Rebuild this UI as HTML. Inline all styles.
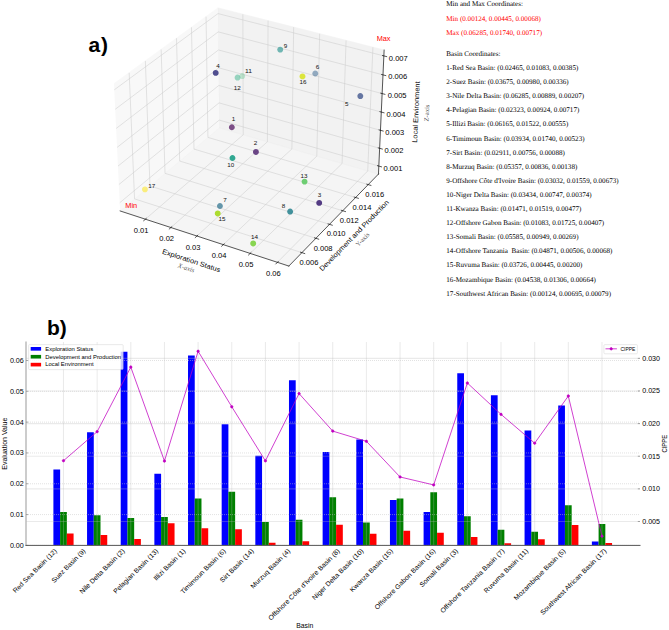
<!DOCTYPE html>
<html><head><meta charset="utf-8"><title>Basin evaluation</title>
<style>
html,body{margin:0;padding:0;background:#fff}
.t{text-rendering:geometricPrecision}
body{width:669px;height:630px;position:relative;overflow:hidden}
.t{position:absolute;left:446.3px;font-family:"Liberation Serif",serif;font-size:7.1px;line-height:0;white-space:nowrap;letter-spacing:0px}
.lab{position:absolute;font-family:"Liberation Sans",sans-serif;font-weight:bold;font-size:21px;line-height:0;color:#000}
.ax{position:absolute;font-family:"Liberation Serif",serif;font-size:6.5px;line-height:0;color:#777;white-space:nowrap}
</style></head><body>
<svg style="position:absolute;left:0;top:0" width="669" height="630" viewBox="0 0 1013.636364 954.545455" version="1.1">
<defs>
<style type="text/css">*{stroke-linejoin: round; stroke-linecap: butt}</style>
</defs>
<g id="a_figure_1">
<g id="a_patch_1">
<path d="M 0 954.545455 
L 1013.636364 954.545455 
L 1013.636364 0 
L 0 0 
L 0 954.545455 
z
" style="fill: none; opacity: 0"/>
</g>
<g id="a_patch_2">
<path d="M 147.69697 431.818182 
L 602.69697 431.818182 
L 602.69697 -1 
M 147.69697 -1 
L 147.69697 431.818182 
" style="fill: none"/>
</g>
<g id="a_pane3d_1">
<g id="a_patch_3">
<path d="M 182.052607 319.629763 
L 332.308467 193.682322 
L 330.219767 12.043598 
L 172.77339 126.940792 
" style="fill: #f2f2f2; opacity: 0.5; stroke: #f2f2f2; stroke-linejoin: miter"/>
</g>
</g>
<g id="a_pane3d_2">
<g id="a_patch_4">
<path d="M 332.308467 193.682322 
L 573.41551 263.762621 
L 582.019771 75.867559 
L 330.219767 12.043598 
" style="fill: #e6e6e6; opacity: 0.5; stroke: #e6e6e6; stroke-linejoin: miter"/>
</g>
</g>
<g id="a_pane3d_3">
<g id="a_patch_5">
<path d="M 182.052607 319.629763 
L 437.637849 403.103903 
L 573.41551 263.762621 
L 332.308467 193.682322 
" style="fill: #ececec; opacity: 0.5; stroke: #ececec; stroke-linejoin: miter"/>
</g>
</g>
<g id="a_grid3d_1">
<g id="a_Line3DCollection_1">
<path d="M 220.303747 332.122586 
L 368.528466 204.210046 
L 367.978294 21.614284 
" style="fill: none; stroke: #cccccc; stroke-width: 0.8"/>
<path d="M 259.01007 344.764071 
L 405.130711 214.848874 
L 406.159624 31.292138 
" style="fill: none; stroke: #cccccc; stroke-width: 0.8"/>
<path d="M 298.351327 357.612925 
L 442.283208 225.647638 
L 444.93997 41.121825 
" style="fill: none; stroke: #cccccc; stroke-width: 0.8"/>
<path d="M 338.343268 370.674293 
L 479.998459 236.609972 
L 484.333538 51.106946 
" style="fill: none; stroke: #cccccc; stroke-width: 0.8"/>
<path d="M 379.002174 383.953491 
L 518.289346 247.739621 
L 524.35499 61.251218 
" style="fill: none; stroke: #cccccc; stroke-width: 0.8"/>
<path d="M 420.344867 397.456015 
L 557.169151 259.040446 
L 565.019459 71.558475 
" style="fill: none; stroke: #cccccc; stroke-width: 0.8"/>
</g>
</g>
<g id="a_grid3d_2">
<g id="a_Line3DCollection_2">
<path d="M 195.703302 110.207587 
L 203.864424 301.346667 
L 457.42245 382.800035 
" style="fill: none; stroke: #cccccc; stroke-width: 0.8"/>
<path d="M 220.256455 92.289814 
L 227.247055 281.746881 
L 478.603683 361.06288 
" style="fill: none; stroke: #cccccc; stroke-width: 0.8"/>
<path d="M 244.157813 74.847692 
L 250.035558 262.645106 
L 499.218711 339.90679 
" style="fill: none; stroke: #cccccc; stroke-width: 0.8"/>
<path d="M 267.432989 57.862529 
L 272.252294 244.022598 
L 519.289938 319.308773 
" style="fill: none; stroke: #cccccc; stroke-width: 0.8"/>
<path d="M 290.106272 41.316599 
L 293.918513 225.861543 
L 538.838602 299.247035 
" style="fill: none; stroke: #cccccc; stroke-width: 0.8"/>
<path d="M 312.200713 25.193082 
L 315.054429 208.145 
L 557.884847 279.700902 
" style="fill: none; stroke: #cccccc; stroke-width: 0.8"/>
</g>
</g>
<g id="a_grid3d_3">
<g id="a_Line3DCollection_3">
<path d="M 573.971637 251.618233 
L 332.1732 181.919103 
L 181.453801 307.195154 
" style="fill: none; stroke: #cccccc; stroke-width: 0.8"/>
<path d="M 575.204715 224.690965 
L 331.873408 155.848439 
L 180.125625 279.614727 
" style="fill: none; stroke: #cccccc; stroke-width: 0.8"/>
<path d="M 576.453681 197.41673 
L 331.569938 129.457934 
L 178.779681 251.665333 
" style="fill: none; stroke: #cccccc; stroke-width: 0.8"/>
<path d="M 577.718845 169.788779 
L 331.262722 102.741663 
L 177.415611 223.33952 
" style="fill: none; stroke: #cccccc; stroke-width: 0.8"/>
<path d="M 579.000524 141.800187 
L 330.951691 75.693558 
L 176.033044 194.62963 
" style="fill: none; stroke: #cccccc; stroke-width: 0.8"/>
<path d="M 580.299043 113.443846 
L 330.636772 48.307398 
L 174.631603 165.527799 
" style="fill: none; stroke: #cccccc; stroke-width: 0.8"/>
<path d="M 581.614737 84.71246 
L 330.317892 20.576806 
L 173.210898 136.025945 
" style="fill: none; stroke: #cccccc; stroke-width: 0.8"/>
</g>
</g>
<g id="a_axis3d_1">
<g id="a_line2d_1">
<path d="M 182.052607 319.629763 
L 437.637849 403.103903 
" style="fill: none; stroke: #000000; stroke-linecap: square"/>
</g>
<g id="a_xtick_1">
<g id="a_line2d_2">
<path d="M 221.594984 331.008295 
L 217.715706 334.355971 
" style="fill: none; stroke: #000000; stroke-linecap: square"/>
</g>
</g>
<g id="a_xtick_2">
<g id="a_line2d_3">
<path d="M 260.283823 343.631583 
L 256.457029 347.033968 
" style="fill: none; stroke: #000000; stroke-linecap: square"/>
</g>
</g>
<g id="a_xtick_3">
<g id="a_line2d_4">
<path d="M 299.606845 356.461791 
L 295.834787 359.920238 
" style="fill: none; stroke: #000000; stroke-linecap: square"/>
</g>
</g>
<g id="a_xtick_4">
<g id="a_line2d_5">
<path d="M 339.579774 369.504048 
L 335.864794 373.019954 
" style="fill: none; stroke: #000000; stroke-linecap: square"/>
</g>
</g>
<g id="a_xtick_5">
<g id="a_line2d_6">
<path d="M 380.218855 382.763656 
L 376.56339 386.338464 
" style="fill: none; stroke: #000000; stroke-linecap: square"/>
</g>
</g>
<g id="a_xtick_6">
<g id="a_line2d_7">
<path d="M 421.54088 396.246092 
L 417.947468 399.881296 
" style="fill: none; stroke: #000000; stroke-linecap: square"/>
</g>
</g>
</g>
<g id="a_axis3d_2">
<g id="a_line2d_8">
<path d="M 573.41551 263.762621 
L 437.637849 403.103903 
" style="fill: none; stroke: #000000; stroke-linecap: square"/>
</g>
<g id="a_xtick_7">
<g id="a_line2d_9">
<path d="M 455.286424 382.113855 
L 461.699991 384.174159 
" style="fill: none; stroke: #000000; stroke-linecap: square"/>
</g>
</g>
<g id="a_xtick_8">
<g id="a_line2d_10">
<path d="M 476.487645 360.395161 
L 482.841121 362.400011 
" style="fill: none; stroke: #000000; stroke-linecap: square"/>
</g>
</g>
<g id="a_xtick_9">
<g id="a_line2d_11">
<path d="M 497.122364 339.256797 
L 503.416647 341.208401 
" style="fill: none; stroke: #000000; stroke-linecap: square"/>
</g>
</g>
<g id="a_xtick_10">
<g id="a_line2d_12">
<path d="M 517.212985 318.67581 
L 523.448968 320.576262 
" style="fill: none; stroke: #000000; stroke-linecap: square"/>
</g>
</g>
<g id="a_xtick_11">
<g id="a_line2d_13">
<path d="M 536.780751 298.630441 
L 542.959315 300.481726 
" style="fill: none; stroke: #000000; stroke-linecap: square"/>
</g>
</g>
<g id="a_xtick_12">
<g id="a_line2d_14">
<path d="M 555.845808 279.100049 
L 561.967827 280.904051 
" style="fill: none; stroke: #000000; stroke-linecap: square"/>
</g>
</g>
</g>
<g id="a_axis3d_3">
<g id="a_line2d_15">
<path d="M 573.41551 263.762621 
L 582.019771 75.867559 
" style="fill: none; stroke: #000000; stroke-linecap: square"/>
</g>
<g id="a_xtick_13">
<g id="a_line2d_16">
<path d="M 571.942007 251.033187 
L 578.035738 252.789723 
" style="fill: none; stroke: #000000; stroke-linecap: square"/>
</g>
</g>
<g id="a_xtick_14">
<g id="a_line2d_17">
<path d="M 573.161605 224.112934 
L 579.295839 225.848413 
" style="fill: none; stroke: #000000; stroke-linecap: square"/>
</g>
</g>
<g id="a_xtick_15">
<g id="a_line2d_18">
<path d="M 574.396911 196.845946 
L 580.57219 198.559676 
" style="fill: none; stroke: #000000; stroke-linecap: square"/>
</g>
</g>
<g id="a_xtick_16">
<g id="a_line2d_19">
<path d="M 575.648232 169.225479 
L 581.865108 170.916748 
" style="fill: none; stroke: #000000; stroke-linecap: square"/>
</g>
</g>
<g id="a_xtick_17">
<g id="a_line2d_20">
<path d="M 576.91588 141.244616 
L 583.174916 142.91269 
" style="fill: none; stroke: #000000; stroke-linecap: square"/>
</g>
</g>
<g id="a_xtick_18">
<g id="a_line2d_21">
<path d="M 578.200176 112.896255 
L 584.501948 114.540377 
" style="fill: none; stroke: #000000; stroke-linecap: square"/>
</g>
</g>
<g id="a_xtick_19">
<g id="a_line2d_22">
<path d="M 579.501453 84.17311 
L 585.846546 85.792497 
" style="fill: none; stroke: #000000; stroke-linecap: square"/>
</g>
</g>
</g>
<g id="a_axes_1">
<g id="a_Path3DCollection_1">
<defs>
<path id="a_C0_0_4ded16db70" d="M 0 4.472136 
C 1.186024 4.472136 2.323632 4.000923 3.162278 3.162278 
C 4.000923 2.323632 4.472136 1.186024 4.472136 -0 
C 4.472136 -1.186024 4.000923 -2.323632 3.162278 -3.162278 
C 2.323632 -4.000923 1.186024 -4.472136 0 -4.472136 
C -1.186024 -4.472136 -2.323632 -4.000923 -3.162278 -3.162278 
C -4.000923 -2.323632 -4.472136 -1.186024 -4.472136 0 
C -4.472136 1.186024 -4.000923 2.323632 -3.162278 3.162278 
C -2.323632 4.000923 -1.186024 4.472136 0 4.472136 
z
"/>
</defs>
<g clip-path="url(#a_pe5051b21e3)">
<use href="#a_C0_0_4ded16db70" x="366.998165" y="115.252277" style="fill: #3fbc73; fill-opacity: 0.3"/>
</g>
<g clip-path="url(#a_pe5051b21e3)">
<use href="#a_C0_0_4ded16db70" x="359.923996" y="117.493126" style="fill: #28ae80; fill-opacity: 0.451041"/>
</g>
<g clip-path="url(#a_pe5051b21e3)">
<use href="#a_C0_0_4ded16db70" x="477.704056" y="111.386597" style="fill: #33638d; fill-opacity: 0.510606"/>
</g>
<g clip-path="url(#a_pe5051b21e3)">
<use href="#a_C0_0_4ded16db70" x="219.590361" y="286.885519" style="fill: #fde725; fill-opacity: 0.578959"/>
</g>
<g clip-path="url(#a_pe5051b21e3)">
<use href="#a_C0_0_4ded16db70" x="424.563438" y="75.141706" style="fill: #21918c; fill-opacity: 0.619435"/>
</g>
<g clip-path="url(#a_pe5051b21e3)">
<use href="#a_C0_0_4ded16db70" x="351.271334" y="192.769065" style="fill: #440154; fill-opacity: 0.67973"/>
</g>
<g clip-path="url(#a_pe5051b21e3)">
<use href="#a_C0_0_4ded16db70" x="333.239769" y="312.083882" style="fill: #2c728e; fill-opacity: 0.722973"/>
</g>
<g clip-path="url(#a_pe5051b21e3)">
<use href="#a_C0_0_4ded16db70" x="545.928835" y="145.536722" style="fill: #3b528b; fill-opacity: 0.771892"/>
</g>
<g clip-path="url(#a_pe5051b21e3)">
<use href="#a_C0_0_4ded16db70" x="387.774304" y="230.243462" style="fill: #48186a; fill-opacity: 0.782984"/>
</g>
<g clip-path="url(#a_pe5051b21e3)">
<use href="#a_C0_0_4ded16db70" x="458.319666" y="115.742561" style="fill: #d8e219; fill-opacity: 0.838556"/>
</g>
<g clip-path="url(#a_pe5051b21e3)">
<use href="#a_C0_0_4ded16db70" x="439.571561" y="320.556928" style="fill: #26828e; fill-opacity: 0.862185"/>
</g>
<g clip-path="url(#a_pe5051b21e3)">
<use href="#a_C0_0_4ded16db70" x="461.466187" y="275.123714" style="fill: #5ec962; fill-opacity: 0.886363"/>
</g>
<g clip-path="url(#a_pe5051b21e3)">
<use href="#a_C0_0_4ded16db70" x="352.233848" y="239.432671" style="fill: #1fa088; fill-opacity: 0.910881"/>
</g>
<g clip-path="url(#a_pe5051b21e3)">
<use href="#a_C0_0_4ded16db70" x="326.840762" y="110.43089" style="fill: #424086; fill-opacity: 0.927258"/>
</g>
<g clip-path="url(#a_pe5051b21e3)">
<use href="#a_C0_0_4ded16db70" x="483.627947" y="307.450327" style="fill: #472d7b; fill-opacity: 0.931034"/>
</g>
<g clip-path="url(#a_pe5051b21e3)">
<use href="#a_C0_0_4ded16db70" x="383.60909" y="368.836122" style="fill: #84d44b; fill-opacity: 0.970547"/>
</g>
<g clip-path="url(#a_pe5051b21e3)">
<use href="#a_C0_0_4ded16db70" x="329.914148" y="323.425357" style="fill: #addc30"/>
</g>
</g>
</g>
<g id="a_text_1">
<text style='font-size:10.6px;font-family:"Liberation Sans",sans-serif;text-anchor:middle' x="213.787879" y="353.190455" transform="rotate(-0 213.787879 353.190455)" textLength="22.266" lengthAdjust="spacingAndGlyphs">0.01</text>
</g>
<g id="a_text_2">
<text style='font-size:10.6px;font-family:"Liberation Sans",sans-serif;text-anchor:middle' x="252.575758" y="365.463182" transform="rotate(-0 252.575758 365.463182)" textLength="22.266" lengthAdjust="spacingAndGlyphs">0.02</text>
</g>
<g id="a_text_3">
<text style='font-size:10.6px;font-family:"Liberation Sans",sans-serif;text-anchor:middle' x="292.424242" y="378.493485" transform="rotate(-0 292.424242 378.493485)" textLength="22.266" lengthAdjust="spacingAndGlyphs">0.03</text>
</g>
<g id="a_text_4">
<text style='font-size:10.6px;font-family:"Liberation Sans",sans-serif;text-anchor:middle' x="331.969697" y="391.220758" transform="rotate(-0 331.969697 391.220758)" textLength="22.266" lengthAdjust="spacingAndGlyphs">0.04</text>
</g>
<g id="a_text_5">
<text style='font-size:10.6px;font-family:"Liberation Sans",sans-serif;text-anchor:middle' x="372.727273" y="405.160152" transform="rotate(-0 372.727273 405.160152)" textLength="22.266" lengthAdjust="spacingAndGlyphs">0.05</text>
</g>
<g id="a_text_6">
<text style='font-size:10.6px;font-family:"Liberation Sans",sans-serif;text-anchor:middle' x="414.242424" y="418.796515" transform="rotate(-0 414.242424 418.796515)" textLength="22.266" lengthAdjust="spacingAndGlyphs">0.06</text>
</g>
<g id="a_text_7">
<text style='font-size:10.6px;font-family:"Liberation Sans",sans-serif;text-anchor:middle' x="567.878788" y="298.038939" transform="rotate(-0 567.878788 298.038939)" textLength="28.628" lengthAdjust="spacingAndGlyphs">0.016</text>
</g>
<g id="a_text_8">
<text style='font-size:10.6px;font-family:"Liberation Sans",sans-serif;text-anchor:middle' x="548.484848" y="318.038939" transform="rotate(-0 548.484848 318.038939)" textLength="28.628" lengthAdjust="spacingAndGlyphs">0.014</text>
</g>
<g id="a_text_9">
<text style='font-size:10.6px;font-family:"Liberation Sans",sans-serif;text-anchor:middle' x="529.242424" y="337.887424" transform="rotate(-0 529.242424 337.887424)" textLength="28.628" lengthAdjust="spacingAndGlyphs">0.012</text>
</g>
<g id="a_text_10">
<text style='font-size:10.6px;font-family:"Liberation Sans",sans-serif;text-anchor:middle' x="509.242424" y="358.190455" transform="rotate(-0 509.242424 358.190455)" textLength="28.628" lengthAdjust="spacingAndGlyphs">0.010</text>
</g>
<g id="a_text_11">
<text style='font-size:10.6px;font-family:"Liberation Sans",sans-serif;text-anchor:middle' x="489.545455" y="380.008636" transform="rotate(-0 489.545455 380.008636)" textLength="28.628" lengthAdjust="spacingAndGlyphs">0.008</text>
</g>
<g id="a_text_12">
<text style='font-size:10.6px;font-family:"Liberation Sans",sans-serif;text-anchor:middle' x="468.181818" y="401.675303" transform="rotate(-0 468.181818 401.675303)" textLength="28.628" lengthAdjust="spacingAndGlyphs">0.006</text>
</g>
<g id="a_text_13">
<text style='font-size:10.6px;font-family:"Liberation Sans",sans-serif;text-anchor:middle' x="603.484848" y="92.129848" transform="rotate(-0 603.484848 92.129848)" textLength="28.628" lengthAdjust="spacingAndGlyphs">0.007</text>
</g>
<g id="a_text_14">
<text style='font-size:10.6px;font-family:"Liberation Sans",sans-serif;text-anchor:middle' x="602.575758" y="120.311667" transform="rotate(-0 602.575758 120.311667)" textLength="28.628" lengthAdjust="spacingAndGlyphs">0.006</text>
</g>
<g id="a_text_15">
<text style='font-size:10.6px;font-family:"Liberation Sans",sans-serif;text-anchor:middle' x="601.666667" y="148.493485" transform="rotate(-0 601.666667 148.493485)" textLength="28.628" lengthAdjust="spacingAndGlyphs">0.005</text>
</g>
<g id="a_text_16">
<text style='font-size:10.6px;font-family:"Liberation Sans",sans-serif;text-anchor:middle' x="600" y="176.523788" transform="rotate(-0 600 176.523788)" textLength="28.628" lengthAdjust="spacingAndGlyphs">0.004</text>
</g>
<g id="a_text_17">
<text style='font-size:10.6px;font-family:"Liberation Sans",sans-serif;text-anchor:middle' x="598.181818" y="204.705606" transform="rotate(-0 598.181818 204.705606)" textLength="28.628" lengthAdjust="spacingAndGlyphs">0.003</text>
</g>
<g id="a_text_18">
<text style='font-size:10.6px;font-family:"Liberation Sans",sans-serif;text-anchor:middle' x="596.969697" y="231.220758" transform="rotate(-0 596.969697 231.220758)" textLength="28.628" lengthAdjust="spacingAndGlyphs">0.002</text>
</g>
<g id="a_text_19">
<text style='font-size:10.6px;font-family:"Liberation Sans",sans-serif;text-anchor:middle' x="595.454545" y="258.493485" transform="rotate(-0 595.454545 258.493485)" textLength="28.628" lengthAdjust="spacingAndGlyphs">0.001</text>
</g>
<g id="a_text_20">
<text style='font-size:10.6px;font-family:"Liberation Sans",sans-serif;text-anchor:middle' x="288.819672" y="398.308187" transform="rotate(-341.9 288.819672 398.308187)" textLength="91.919" lengthAdjust="spacingAndGlyphs">Exploration Status</text>
</g>
<g id="a_text_21">
<text style='font-size:10.6px;font-family:"Liberation Sans",sans-serif;text-anchor:middle' x="539.084561" y="359.3182" transform="rotate(-45.74 539.084561 359.3182)" textLength="145.694" lengthAdjust="spacingAndGlyphs">Development and Production</text>
</g>
<g id="a_text_22">
<text style='font-size:10.6px;font-family:"Liberation Sans",sans-serif;text-anchor:middle' x="633.946823" y="169.869314" transform="rotate(-87.4 633.946823 169.869314)" textLength="92.950" lengthAdjust="spacingAndGlyphs">Local Environment</text>
</g>
<g id="a_text_23">
<text style='font-size:8.833px;font-family:"Liberation Sans",sans-serif;text-anchor:middle;fill:#111111' x="330.151515" y="103.484848" transform="rotate(-0 330.151515 103.484848)" textLength="5.302" lengthAdjust="spacingAndGlyphs">4</text>
</g>
<g id="a_text_24">
<text style='font-size:8.833px;font-family:"Liberation Sans",sans-serif;text-anchor:middle;fill:#111111' x="376.666667" y="110.454545" transform="rotate(-0 376.666667 110.454545)" textLength="10.604" lengthAdjust="spacingAndGlyphs">11</text>
</g>
<g id="a_text_25">
<text style='font-size:8.833px;font-family:"Liberation Sans",sans-serif;text-anchor:middle;fill:#111111' x="359.545455" y="136.060606" transform="rotate(-0 359.545455 136.060606)" textLength="10.604" lengthAdjust="spacingAndGlyphs">12</text>
</g>
<g id="a_text_26">
<text style='font-size:8.833px;font-family:"Liberation Sans",sans-serif;text-anchor:middle;fill:#111111' x="432.424242" y="72.575758" transform="rotate(-0 432.424242 72.575758)" textLength="5.302" lengthAdjust="spacingAndGlyphs">9</text>
</g>
<g id="a_text_27">
<text style='font-size:8.833px;font-family:"Liberation Sans",sans-serif;text-anchor:middle;fill:#111111' x="459.090909" y="127.575758" transform="rotate(-0 459.090909 127.575758)" textLength="10.604" lengthAdjust="spacingAndGlyphs">16</text>
</g>
<g id="a_text_28">
<text style='font-size:8.833px;font-family:"Liberation Sans",sans-serif;text-anchor:middle;fill:#111111' x="481.060606" y="104.545455" transform="rotate(-0 481.060606 104.545455)" textLength="5.302" lengthAdjust="spacingAndGlyphs">6</text>
</g>
<g id="a_text_29">
<text style='font-size:8.833px;font-family:"Liberation Sans",sans-serif;text-anchor:middle;fill:#111111' x="525.30303" y="161.363636" transform="rotate(-0 525.30303 161.363636)" textLength="5.302" lengthAdjust="spacingAndGlyphs">5</text>
</g>
<g id="a_text_30">
<text style='font-size:8.833px;font-family:"Liberation Sans",sans-serif;text-anchor:middle;fill:#111111' x="353.787879" y="182.878788" transform="rotate(-0 353.787879 182.878788)" textLength="5.302" lengthAdjust="spacingAndGlyphs">1</text>
</g>
<g id="a_text_31">
<text style='font-size:8.833px;font-family:"Liberation Sans",sans-serif;text-anchor:middle;fill:#111111' x="387.272727" y="219.393939" transform="rotate(-0 387.272727 219.393939)" textLength="5.302" lengthAdjust="spacingAndGlyphs">2</text>
</g>
<g id="a_text_32">
<text style='font-size:8.833px;font-family:"Liberation Sans",sans-serif;text-anchor:middle;fill:#111111' x="349.69697" y="253.030303" transform="rotate(-0 349.69697 253.030303)" textLength="10.604" lengthAdjust="spacingAndGlyphs">10</text>
</g>
<g id="a_text_33">
<text style='font-size:8.833px;font-family:"Liberation Sans",sans-serif;text-anchor:middle;fill:#111111' x="229.848485" y="284.242424" transform="rotate(-0 229.848485 284.242424)" textLength="10.604" lengthAdjust="spacingAndGlyphs">17</text>
</g>
<g id="a_text_34">
<text style='font-size:8.833px;font-family:"Liberation Sans",sans-serif;text-anchor:middle;fill:#111111' x="340.909091" y="306.666667" transform="rotate(-0 340.909091 306.666667)" textLength="5.302" lengthAdjust="spacingAndGlyphs">7</text>
</g>
<g id="a_text_35">
<text style='font-size:8.833px;font-family:"Liberation Sans",sans-serif;text-anchor:middle;fill:#111111' x="336.515152" y="334.393939" transform="rotate(-0 336.515152 334.393939)" textLength="10.604" lengthAdjust="spacingAndGlyphs">15</text>
</g>
<g id="a_text_36">
<text style='font-size:8.833px;font-family:"Liberation Sans",sans-serif;text-anchor:middle;fill:#111111' x="385.606061" y="362.878788" transform="rotate(-0 385.606061 362.878788)" textLength="10.604" lengthAdjust="spacingAndGlyphs">14</text>
</g>
<g id="a_text_37">
<text style='font-size:8.833px;font-family:"Liberation Sans",sans-serif;text-anchor:middle;fill:#111111' x="460.606061" y="269.69697" transform="rotate(-0 460.606061 269.69697)" textLength="10.604" lengthAdjust="spacingAndGlyphs">13</text>
</g>
<g id="a_text_38">
<text style='font-size:8.833px;font-family:"Liberation Sans",sans-serif;text-anchor:middle;fill:#111111' x="484.090909" y="298.636364" transform="rotate(-0 484.090909 298.636364)" textLength="5.302" lengthAdjust="spacingAndGlyphs">3</text>
</g>
<g id="a_text_39">
<text style='font-size:8.833px;font-family:"Liberation Sans",sans-serif;text-anchor:middle;fill:#111111' x="429.393939" y="314.545455" transform="rotate(-0 429.393939 314.545455)" textLength="5.302" lengthAdjust="spacingAndGlyphs">8</text>
</g>
<g id="a_text_40">
<text style='font-size:10px;font-family:"Liberation Serif",serif;text-anchor:middle;font-style:italic;fill:#505050' x="281.222617" y="408.95236" transform="rotate(-341.9 281.222617 408.95236)">X-axis</text>
</g>
<g id="a_text_41">
<text style='font-size:10px;font-family:"Liberation Serif",serif;text-anchor:middle;fill:#505050' x="551.570674" y="365.163117" transform="rotate(-45.74 551.570674 365.163117)">Y-axis</text>
</g>
<g id="a_text_42">
<text style='font-size:10px;font-family:"Liberation Serif",serif;text-anchor:middle;fill:#505050' x="649.826454" y="171.321205" transform="rotate(-87.4 649.826454 171.321205)">Z-axis</text>
</g>
<g id="a_text_43">
<text style='font-size:10.761px;font-family:"Liberation Sans",sans-serif;text-anchor:middle;fill:#ff0000' x="198.939394" y="314.848485" transform="rotate(-0 198.939394 314.848485)" textLength="18.013" lengthAdjust="spacingAndGlyphs">Min</text>
</g>
<g id="a_text_44">
<text style='font-size:10.761px;font-family:"Liberation Sans",sans-serif;text-anchor:middle;fill:#ff0000' x="581.212121" y="62.121212" transform="rotate(-0 581.212121 62.121212)" textLength="20.987" lengthAdjust="spacingAndGlyphs">Max</text>
</g>
</g>
<defs>
<clipPath id="a_pe5051b21e3">
<rect x="147.69697" y="-23.181818" width="455" height="455"/>
</clipPath>
</defs>
</svg>

<svg style="position:absolute;left:0;top:0" width="669" height="630" viewBox="0 0 1070.4 1008" version="1.1">
<defs>
<style type="text/css">*{stroke-linejoin: round; stroke-linecap: butt}</style>
</defs>
<g id="b_figure_1">
<g id="b_patch_1">
<path d="M 0 1008 
L 1070.4 1008 
L 1070.4 0 
L 0 0 
L 0 1008 
z
" style="fill: none; opacity: 0"/>
</g>
<g id="b_axes_1">
<g id="b_patch_2">
<path d="M 41.6 872.64 
L 1024 872.64 
L 1024 547.2 
L 41.6 547.2 
L 41.6 872.64 
z
" style="fill: none"/>
</g>
<g id="b_patch_3">
<path d="M 85.432142 872.64 
L 96.20171 872.64 
L 96.20171 751.093091 
L 85.432142 751.093091 
z
" clip-path="url(#b_p36844633c5)" style="fill: #0000ff"/>
</g>
<g id="b_patch_4">
<path d="M 139.279982 872.64 
L 150.049551 872.64 
L 150.049551 691.429091 
L 139.279982 691.429091 
z
" clip-path="url(#b_p36844633c5)" style="fill: #0000ff"/>
</g>
<g id="b_patch_5">
<path d="M 193.127823 872.64 
L 203.897391 872.64 
L 203.897391 562.732364 
L 193.127823 562.732364 
z
" clip-path="url(#b_p36844633c5)" style="fill: #0000ff"/>
</g>
<g id="b_patch_6">
<path d="M 246.975663 872.64 
L 257.745231 872.64 
L 257.745231 758.094982 
L 246.975663 758.094982 
z
" clip-path="url(#b_p36844633c5)" style="fill: #0000ff"/>
</g>
<g id="b_patch_7">
<path d="M 300.823504 872.64 
L 311.593072 872.64 
L 311.593072 568.649455 
L 300.823504 568.649455 
z
" clip-path="url(#b_p36844633c5)" style="fill: #0000ff"/>
</g>
<g id="b_patch_8">
<path d="M 354.671344 872.64 
L 365.440912 872.64 
L 365.440912 678.658036 
L 354.671344 678.658036 
z
" clip-path="url(#b_p36844633c5)" style="fill: #0000ff"/>
</g>
<g id="b_patch_9">
<path d="M 408.519184 872.64 
L 419.288752 872.64 
L 419.288752 729.101236 
L 408.519184 729.101236 
z
" clip-path="url(#b_p36844633c5)" style="fill: #0000ff"/>
</g>
<g id="b_patch_10">
<path d="M 462.367025 872.64 
L 473.136593 872.64 
L 473.136593 608.4912 
L 462.367025 608.4912 
z
" clip-path="url(#b_p36844633c5)" style="fill: #0000ff"/>
</g>
<g id="b_patch_11">
<path d="M 516.214865 872.64 
L 526.984433 872.64 
L 526.984433 723.134836 
L 516.214865 723.134836 
z
" clip-path="url(#b_p36844633c5)" style="fill: #0000ff"/>
</g>
<g id="b_patch_12">
<path d="M 570.062706 872.64 
L 580.832274 872.64 
L 580.832274 703.312582 
L 570.062706 703.312582 
z
" clip-path="url(#b_p36844633c5)" style="fill: #0000ff"/>
</g>
<g id="b_patch_13">
<path d="M 623.910546 872.64 
L 634.680114 872.64 
L 634.680114 800.106327 
L 623.910546 800.106327 
z
" clip-path="url(#b_p36844633c5)" style="fill: #0000ff"/>
</g>
<g id="b_patch_14">
<path d="M 677.758386 872.64 
L 688.527954 872.64 
L 688.527954 819.238255 
L 677.758386 819.238255 
z
" clip-path="url(#b_p36844633c5)" style="fill: #0000ff"/>
</g>
<g id="b_patch_15">
<path d="M 731.606227 872.64 
L 742.375795 872.64 
L 742.375795 597.248727 
L 731.606227 597.248727 
z
" clip-path="url(#b_p36844633c5)" style="fill: #0000ff"/>
</g>
<g id="b_patch_16">
<path d="M 785.454067 872.64 
L 796.223635 872.64 
L 796.223635 632.455418 
L 785.454067 632.455418 
z
" clip-path="url(#b_p36844633c5)" style="fill: #0000ff"/>
</g>
<g id="b_patch_17">
<path d="M 839.301907 872.64 
L 850.071476 872.64 
L 850.071476 688.914327 
L 839.301907 688.914327 
z
" clip-path="url(#b_p36844633c5)" style="fill: #0000ff"/>
</g>
<g id="b_patch_18">
<path d="M 893.149748 872.64 
L 903.919316 872.64 
L 903.919316 648.875345 
L 893.149748 648.875345 
z
" clip-path="url(#b_p36844633c5)" style="fill: #0000ff"/>
</g>
<g id="b_patch_19">
<path d="M 946.997588 872.64 
L 957.767156 872.64 
L 957.767156 866.525673 
L 946.997588 866.525673 
z
" clip-path="url(#b_p36844633c5)" style="fill: #0000ff"/>
</g>
<g id="b_patch_20">
<path d="M 96.20171 872.64 
L 106.971278 872.64 
L 106.971278 819.238255 
L 96.20171 819.238255 
z
" clip-path="url(#b_p36844633c5)" style="fill: #008000"/>
</g>
<g id="b_patch_21">
<path d="M 150.049551 872.64 
L 160.819119 872.64 
L 160.819119 824.317091 
L 150.049551 824.317091 
z
" clip-path="url(#b_p36844633c5)" style="fill: #008000"/>
</g>
<g id="b_patch_22">
<path d="M 203.897391 872.64 
L 214.666959 872.64 
L 214.666959 828.804218 
L 203.897391 828.804218 
z
" clip-path="url(#b_p36844633c5)" style="fill: #008000"/>
</g>
<g id="b_patch_23">
<path d="M 257.745231 872.64 
L 268.514799 872.64 
L 268.514799 827.0784 
L 257.745231 827.0784 
z
" clip-path="url(#b_p36844633c5)" style="fill: #008000"/>
</g>
<g id="b_patch_24">
<path d="M 311.593072 872.64 
L 322.36264 872.64 
L 322.36264 797.591564 
L 311.593072 797.591564 
z
" clip-path="url(#b_p36844633c5)" style="fill: #008000"/>
</g>
<g id="b_patch_25">
<path d="M 365.440912 872.64 
L 376.21048 872.64 
L 376.21048 786.842182 
L 365.440912 786.842182 
z
" clip-path="url(#b_p36844633c5)" style="fill: #008000"/>
</g>
<g id="b_patch_26">
<path d="M 419.288752 872.64 
L 430.058321 872.64 
L 430.058321 835.362327 
L 419.288752 835.362327 
z
" clip-path="url(#b_p36844633c5)" style="fill: #008000"/>
</g>
<g id="b_patch_27">
<path d="M 473.136593 872.64 
L 483.906161 872.64 
L 483.906161 831.4176 
L 473.136593 831.4176 
z
" clip-path="url(#b_p36844633c5)" style="fill: #008000"/>
</g>
<g id="b_patch_28">
<path d="M 526.984433 872.64 
L 537.754001 872.64 
L 537.754001 795.767127 
L 526.984433 795.767127 
z
" clip-path="url(#b_p36844633c5)" style="fill: #008000"/>
</g>
<g id="b_patch_29">
<path d="M 580.832274 872.64 
L 591.601842 872.64 
L 591.601842 835.806109 
L 580.832274 835.806109 
z
" clip-path="url(#b_p36844633c5)" style="fill: #008000"/>
</g>
<g id="b_patch_30">
<path d="M 634.680114 872.64 
L 645.449682 872.64 
L 645.449682 797.739491 
L 634.680114 797.739491 
z
" clip-path="url(#b_p36844633c5)" style="fill: #008000"/>
</g>
<g id="b_patch_31">
<path d="M 688.527954 872.64 
L 699.297522 872.64 
L 699.297522 787.581818 
L 688.527954 787.581818 
z
" clip-path="url(#b_p36844633c5)" style="fill: #008000"/>
</g>
<g id="b_patch_32">
<path d="M 742.375795 872.64 
L 753.145363 872.64 
L 753.145363 825.845673 
L 742.375795 825.845673 
z
" clip-path="url(#b_p36844633c5)" style="fill: #008000"/>
</g>
<g id="b_patch_33">
<path d="M 796.223635 872.64 
L 806.993203 872.64 
L 806.993203 847.6896 
L 796.223635 847.6896 
z
" clip-path="url(#b_p36844633c5)" style="fill: #008000"/>
</g>
<g id="b_patch_34">
<path d="M 850.071476 872.64 
L 860.841044 872.64 
L 860.841044 850.697455 
L 850.071476 850.697455 
z
" clip-path="url(#b_p36844633c5)" style="fill: #008000"/>
</g>
<g id="b_patch_35">
<path d="M 903.919316 872.64 
L 914.688884 872.64 
L 914.688884 808.242327 
L 903.919316 808.242327 
z
" clip-path="url(#b_p36844633c5)" style="fill: #008000"/>
</g>
<g id="b_patch_36">
<path d="M 957.767156 872.64 
L 968.536724 872.64 
L 968.536724 838.370182 
L 957.767156 838.370182 
z
" clip-path="url(#b_p36844633c5)" style="fill: #008000"/>
</g>
<g id="b_patch_37">
<path d="M 106.971278 872.64 
L 117.740846 872.64 
L 117.740846 853.656 
L 106.971278 853.656 
z
" clip-path="url(#b_p36844633c5)" style="fill: #ff0000"/>
</g>
<g id="b_patch_38">
<path d="M 160.819119 872.64 
L 171.588687 872.64 
L 171.588687 856.072145 
L 160.819119 856.072145 
z
" clip-path="url(#b_p36844633c5)" style="fill: #ff0000"/>
</g>
<g id="b_patch_39">
<path d="M 214.666959 872.64 
L 225.436527 872.64 
L 225.436527 862.433018 
L 214.666959 862.433018 
z
" clip-path="url(#b_p36844633c5)" style="fill: #ff0000"/>
</g>
<g id="b_patch_40">
<path d="M 268.514799 872.64 
L 279.284367 872.64 
L 279.284367 837.285382 
L 268.514799 837.285382 
z
" clip-path="url(#b_p36844633c5)" style="fill: #ff0000"/>
</g>
<g id="b_patch_41">
<path d="M 322.36264 872.64 
L 333.132208 872.64 
L 333.132208 845.273455 
L 322.36264 845.273455 
z
" clip-path="url(#b_p36844633c5)" style="fill: #ff0000"/>
</g>
<g id="b_patch_42">
<path d="M 376.21048 872.64 
L 386.980048 872.64 
L 386.980048 846.851345 
L 376.21048 846.851345 
z
" clip-path="url(#b_p36844633c5)" style="fill: #ff0000"/>
</g>
<g id="b_patch_43">
<path d="M 430.058321 872.64 
L 440.827889 872.64 
L 440.827889 868.3008 
L 430.058321 868.3008 
z
" clip-path="url(#b_p36844633c5)" style="fill: #ff0000"/>
</g>
<g id="b_patch_44">
<path d="M 483.906161 872.64 
L 494.675729 872.64 
L 494.675729 865.835345 
L 483.906161 865.835345 
z
" clip-path="url(#b_p36844633c5)" style="fill: #ff0000"/>
</g>
<g id="b_patch_45">
<path d="M 537.754001 872.64 
L 548.523569 872.64 
L 548.523569 839.454982 
L 537.754001 839.454982 
z
" clip-path="url(#b_p36844633c5)" style="fill: #ff0000"/>
</g>
<g id="b_patch_46">
<path d="M 591.601842 872.64 
L 602.37141 872.64 
L 602.37141 854.1984 
L 591.601842 854.1984 
z
" clip-path="url(#b_p36844633c5)" style="fill: #ff0000"/>
</g>
<g id="b_patch_47">
<path d="M 645.449682 872.64 
L 656.21925 872.64 
L 656.21925 849.119564 
L 645.449682 849.119564 
z
" clip-path="url(#b_p36844633c5)" style="fill: #ff0000"/>
</g>
<g id="b_patch_48">
<path d="M 699.297522 872.64 
L 710.067091 872.64 
L 710.067091 852.5712 
L 699.297522 852.5712 
z
" clip-path="url(#b_p36844633c5)" style="fill: #ff0000"/>
</g>
<g id="b_patch_49">
<path d="M 753.145363 872.64 
L 763.914931 872.64 
L 763.914931 859.375855 
L 753.145363 859.375855 
z
" clip-path="url(#b_p36844633c5)" style="fill: #ff0000"/>
</g>
<g id="b_patch_50">
<path d="M 806.993203 872.64 
L 817.762771 872.64 
L 817.762771 869.286982 
L 806.993203 869.286982 
z
" clip-path="url(#b_p36844633c5)" style="fill: #ff0000"/>
</g>
<g id="b_patch_51">
<path d="M 860.841044 872.64 
L 871.610612 872.64 
L 871.610612 862.778182 
L 860.841044 862.778182 
z
" clip-path="url(#b_p36844633c5)" style="fill: #ff0000"/>
</g>
<g id="b_patch_52">
<path d="M 914.688884 872.64 
L 925.458452 872.64 
L 925.458452 839.898764 
L 914.688884 839.898764 
z
" clip-path="url(#b_p36844633c5)" style="fill: #ff0000"/>
</g>
<g id="b_patch_53">
<path d="M 968.536724 872.64 
L 979.306292 872.64 
L 979.306292 868.744582 
L 968.536724 868.744582 
z
" clip-path="url(#b_p36844633c5)" style="fill: #ff0000"/>
</g>
<g id="b_matplotlib.axis_1">
<g id="b_xtick_1">
<g id="b_line2d_1">
<path d="M 101.586494 872.64 
L 101.586494 547.2 
" clip-path="url(#b_p36844633c5)" style="fill: none; stroke: #b8b8b8; stroke-opacity: 0.35; stroke-width: 1.4; stroke-linecap: square"/>
</g>
<g id="b_line2d_2"/>
</g>
<g id="b_xtick_2">
<g id="b_line2d_3">
<path d="M 155.434335 872.64 
L 155.434335 547.2 
" clip-path="url(#b_p36844633c5)" style="fill: none; stroke: #b8b8b8; stroke-opacity: 0.35; stroke-width: 1.4; stroke-linecap: square"/>
</g>
<g id="b_line2d_4"/>
</g>
<g id="b_xtick_3">
<g id="b_line2d_5">
<path d="M 209.282175 872.64 
L 209.282175 547.2 
" clip-path="url(#b_p36844633c5)" style="fill: none; stroke: #b8b8b8; stroke-opacity: 0.35; stroke-width: 1.4; stroke-linecap: square"/>
</g>
<g id="b_line2d_6"/>
</g>
<g id="b_xtick_4">
<g id="b_line2d_7">
<path d="M 263.130015 872.64 
L 263.130015 547.2 
" clip-path="url(#b_p36844633c5)" style="fill: none; stroke: #b8b8b8; stroke-opacity: 0.35; stroke-width: 1.4; stroke-linecap: square"/>
</g>
<g id="b_line2d_8"/>
</g>
<g id="b_xtick_5">
<g id="b_line2d_9">
<path d="M 316.977856 872.64 
L 316.977856 547.2 
" clip-path="url(#b_p36844633c5)" style="fill: none; stroke: #b8b8b8; stroke-opacity: 0.35; stroke-width: 1.4; stroke-linecap: square"/>
</g>
<g id="b_line2d_10"/>
</g>
<g id="b_xtick_6">
<g id="b_line2d_11">
<path d="M 370.825696 872.64 
L 370.825696 547.2 
" clip-path="url(#b_p36844633c5)" style="fill: none; stroke: #b8b8b8; stroke-opacity: 0.35; stroke-width: 1.4; stroke-linecap: square"/>
</g>
<g id="b_line2d_12"/>
</g>
<g id="b_xtick_7">
<g id="b_line2d_13">
<path d="M 424.673537 872.64 
L 424.673537 547.2 
" clip-path="url(#b_p36844633c5)" style="fill: none; stroke: #b8b8b8; stroke-opacity: 0.35; stroke-width: 1.4; stroke-linecap: square"/>
</g>
<g id="b_line2d_14"/>
</g>
<g id="b_xtick_8">
<g id="b_line2d_15">
<path d="M 478.521377 872.64 
L 478.521377 547.2 
" clip-path="url(#b_p36844633c5)" style="fill: none; stroke: #b8b8b8; stroke-opacity: 0.35; stroke-width: 1.4; stroke-linecap: square"/>
</g>
<g id="b_line2d_16"/>
</g>
<g id="b_xtick_9">
<g id="b_line2d_17">
<path d="M 532.369217 872.64 
L 532.369217 547.2 
" clip-path="url(#b_p36844633c5)" style="fill: none; stroke: #b8b8b8; stroke-opacity: 0.35; stroke-width: 1.4; stroke-linecap: square"/>
</g>
<g id="b_line2d_18"/>
</g>
<g id="b_xtick_10">
<g id="b_line2d_19">
<path d="M 586.217058 872.64 
L 586.217058 547.2 
" clip-path="url(#b_p36844633c5)" style="fill: none; stroke: #b8b8b8; stroke-opacity: 0.35; stroke-width: 1.4; stroke-linecap: square"/>
</g>
<g id="b_line2d_20"/>
</g>
<g id="b_xtick_11">
<g id="b_line2d_21">
<path d="M 640.064898 872.64 
L 640.064898 547.2 
" clip-path="url(#b_p36844633c5)" style="fill: none; stroke: #b8b8b8; stroke-opacity: 0.35; stroke-width: 1.4; stroke-linecap: square"/>
</g>
<g id="b_line2d_22"/>
</g>
<g id="b_xtick_12">
<g id="b_line2d_23">
<path d="M 693.912738 872.64 
L 693.912738 547.2 
" clip-path="url(#b_p36844633c5)" style="fill: none; stroke: #b8b8b8; stroke-opacity: 0.35; stroke-width: 1.4; stroke-linecap: square"/>
</g>
<g id="b_line2d_24"/>
</g>
<g id="b_xtick_13">
<g id="b_line2d_25">
<path d="M 747.760579 872.64 
L 747.760579 547.2 
" clip-path="url(#b_p36844633c5)" style="fill: none; stroke: #b8b8b8; stroke-opacity: 0.35; stroke-width: 1.4; stroke-linecap: square"/>
</g>
<g id="b_line2d_26"/>
</g>
<g id="b_xtick_14">
<g id="b_line2d_27">
<path d="M 801.608419 872.64 
L 801.608419 547.2 
" clip-path="url(#b_p36844633c5)" style="fill: none; stroke: #b8b8b8; stroke-opacity: 0.35; stroke-width: 1.4; stroke-linecap: square"/>
</g>
<g id="b_line2d_28"/>
</g>
<g id="b_xtick_15">
<g id="b_line2d_29">
<path d="M 855.45626 872.64 
L 855.45626 547.2 
" clip-path="url(#b_p36844633c5)" style="fill: none; stroke: #b8b8b8; stroke-opacity: 0.35; stroke-width: 1.4; stroke-linecap: square"/>
</g>
<g id="b_line2d_30"/>
</g>
<g id="b_xtick_16">
<g id="b_line2d_31">
<path d="M 909.3041 872.64 
L 909.3041 547.2 
" clip-path="url(#b_p36844633c5)" style="fill: none; stroke: #b8b8b8; stroke-opacity: 0.35; stroke-width: 1.4; stroke-linecap: square"/>
</g>
<g id="b_line2d_32"/>
</g>
<g id="b_xtick_17">
<g id="b_line2d_33">
<path d="M 963.15194 872.64 
L 963.15194 547.2 
" clip-path="url(#b_p36844633c5)" style="fill: none; stroke: #b8b8b8; stroke-opacity: 0.35; stroke-width: 1.4; stroke-linecap: square"/>
</g>
<g id="b_line2d_34"/>
</g>
</g>
<g id="b_matplotlib.axis_2">
<g id="b_ytick_1">
<g id="b_line2d_35">
<path d="M 41.6 872.64 
L 1024 872.64 
" clip-path="url(#b_p36844633c5)" style="fill: none; stroke-dasharray: 1.6,1.6; stroke-dashoffset: 0; stroke: #c4c4c4; stroke-width: 0.8"/>
</g>
<g id="b_line2d_36">
<defs>
<path id="b_m35127ab6d9" d="M 0 0 
L 3.5 0 
" style="stroke: #555555; stroke-width: 0.8"/>
</defs>
<g>
<use href="#b_m35127ab6d9" x="41.6" y="872.64" style="fill: #555555; stroke: #555555; stroke-width: 0.8"/>
</g>
</g>
<g id="b_text_1">
<text style='font-size:10.6px;font-family:"Liberation Sans",sans-serif;text-anchor:end' x="38.1" y="876.439219" transform="rotate(-0 38.1 876.439219)" textLength="22.266" lengthAdjust="spacingAndGlyphs">0.00</text>
</g>
</g>
<g id="b_ytick_2">
<g id="b_line2d_37">
<path d="M 41.6 823.330909 
L 1024 823.330909 
" clip-path="url(#b_p36844633c5)" style="fill: none; stroke-dasharray: 1.6,1.6; stroke-dashoffset: 0; stroke: #c4c4c4; stroke-width: 0.8"/>
</g>
<g id="b_line2d_38">
<g>
<use href="#b_m35127ab6d9" x="41.6" y="823.330909" style="fill: #555555; stroke: #555555; stroke-width: 0.8"/>
</g>
</g>
<g id="b_text_2">
<text style='font-size:10.6px;font-family:"Liberation Sans",sans-serif;text-anchor:end' x="38.1" y="827.130128" transform="rotate(-0 38.1 827.130128)" textLength="22.266" lengthAdjust="spacingAndGlyphs">0.01</text>
</g>
</g>
<g id="b_ytick_3">
<g id="b_line2d_39">
<path d="M 41.6 774.021818 
L 1024 774.021818 
" clip-path="url(#b_p36844633c5)" style="fill: none; stroke-dasharray: 1.6,1.6; stroke-dashoffset: 0; stroke: #c4c4c4; stroke-width: 0.8"/>
</g>
<g id="b_line2d_40">
<g>
<use href="#b_m35127ab6d9" x="41.6" y="774.021818" style="fill: #555555; stroke: #555555; stroke-width: 0.8"/>
</g>
</g>
<g id="b_text_3">
<text style='font-size:10.6px;font-family:"Liberation Sans",sans-serif;text-anchor:end' x="38.1" y="777.821037" transform="rotate(-0 38.1 777.821037)" textLength="22.266" lengthAdjust="spacingAndGlyphs">0.02</text>
</g>
</g>
<g id="b_ytick_4">
<g id="b_line2d_41">
<path d="M 41.6 724.712727 
L 1024 724.712727 
" clip-path="url(#b_p36844633c5)" style="fill: none; stroke-dasharray: 1.6,1.6; stroke-dashoffset: 0; stroke: #c4c4c4; stroke-width: 0.8"/>
</g>
<g id="b_line2d_42">
<g>
<use href="#b_m35127ab6d9" x="41.6" y="724.712727" style="fill: #555555; stroke: #555555; stroke-width: 0.8"/>
</g>
</g>
<g id="b_text_4">
<text style='font-size:10.6px;font-family:"Liberation Sans",sans-serif;text-anchor:end' x="38.1" y="728.511946" transform="rotate(-0 38.1 728.511946)" textLength="22.266" lengthAdjust="spacingAndGlyphs">0.03</text>
</g>
</g>
<g id="b_ytick_5">
<g id="b_line2d_43">
<path d="M 41.6 675.403636 
L 1024 675.403636 
" clip-path="url(#b_p36844633c5)" style="fill: none; stroke-dasharray: 1.6,1.6; stroke-dashoffset: 0; stroke: #c4c4c4; stroke-width: 0.8"/>
</g>
<g id="b_line2d_44">
<g>
<use href="#b_m35127ab6d9" x="41.6" y="675.403636" style="fill: #555555; stroke: #555555; stroke-width: 0.8"/>
</g>
</g>
<g id="b_text_5">
<text style='font-size:10.6px;font-family:"Liberation Sans",sans-serif;text-anchor:end' x="38.1" y="679.202855" transform="rotate(-0 38.1 679.202855)" textLength="22.266" lengthAdjust="spacingAndGlyphs">0.04</text>
</g>
</g>
<g id="b_ytick_6">
<g id="b_line2d_45">
<path d="M 41.6 626.094545 
L 1024 626.094545 
" clip-path="url(#b_p36844633c5)" style="fill: none; stroke-dasharray: 1.6,1.6; stroke-dashoffset: 0; stroke: #c4c4c4; stroke-width: 0.8"/>
</g>
<g id="b_line2d_46">
<g>
<use href="#b_m35127ab6d9" x="41.6" y="626.094545" style="fill: #555555; stroke: #555555; stroke-width: 0.8"/>
</g>
</g>
<g id="b_text_6">
<text style='font-size:10.6px;font-family:"Liberation Sans",sans-serif;text-anchor:end' x="38.1" y="629.893764" transform="rotate(-0 38.1 629.893764)" textLength="22.266" lengthAdjust="spacingAndGlyphs">0.05</text>
</g>
</g>
<g id="b_ytick_7">
<g id="b_line2d_47">
<path d="M 41.6 576.785455 
L 1024 576.785455 
" clip-path="url(#b_p36844633c5)" style="fill: none; stroke-dasharray: 1.6,1.6; stroke-dashoffset: 0; stroke: #c4c4c4; stroke-width: 0.8"/>
</g>
<g id="b_line2d_48">
<g>
<use href="#b_m35127ab6d9" x="41.6" y="576.785455" style="fill: #555555; stroke: #555555; stroke-width: 0.8"/>
</g>
</g>
<g id="b_text_7">
<text style='font-size:10.6px;font-family:"Liberation Sans",sans-serif;text-anchor:end' x="38.1" y="580.584673" transform="rotate(-0 38.1 580.584673)" textLength="22.266" lengthAdjust="spacingAndGlyphs">0.06</text>
</g>
</g>
<g id="b_text_8">
<text style='font-size:10.6px;font-family:"Liberation Sans",sans-serif;text-anchor:middle' x="10.454688" y="709.92" transform="rotate(-90 10.454688 709.92)" textLength="83.404" lengthAdjust="spacingAndGlyphs">Evaluation Value</text>
</g>
</g>
<g id="b_patch_54">
<path d="M 41.6 872.64 
L 41.6 547.2 
" style="fill: none; stroke: #999999; stroke-width: 1.6; stroke-linejoin: miter; stroke-linecap: square"/>
</g>
<g id="b_patch_55">
<path d="M 41.6 872.64 
L 1024 872.64 
" style="fill: none; stroke: #555555; stroke-width: 1.6; stroke-linejoin: miter; stroke-linecap: square"/>
</g>
<g id="b_text_9">
<text style='font-size:10.6px;font-family:"Liberation Sans",sans-serif;text-anchor:start' transform="translate(24.667885 949.39247) rotate(-45)" textLength="95.005" lengthAdjust="spacingAndGlyphs">Red Sea Basin (12)</text>
</g>
<g id="b_text_10">
<text style='font-size:10.6px;font-family:"Liberation Sans",sans-serif;text-anchor:start' transform="translate(86.676732 933.070457) rotate(-45)" textLength="71.924" lengthAdjust="spacingAndGlyphs">Suez Basin (9)</text>
</g>
<g id="b_text_11">
<text style='font-size:10.6px;font-family:"Liberation Sans",sans-serif;text-anchor:start' transform="translate(131.699548 950.720505) rotate(-45)" textLength="96.885" lengthAdjust="spacingAndGlyphs">Nile Delta Basin (2)</text>
</g>
<g id="b_text_12">
<text style='font-size:10.6px;font-family:"Liberation Sans",sans-serif;text-anchor:start' transform="translate(185.677209 950.460864) rotate(-45)" textLength="96.524" lengthAdjust="spacingAndGlyphs">Pelagian Basin (13)</text>
</g>
<g id="b_text_13">
<text style='font-size:10.6px;font-family:"Liberation Sans",sans-serif;text-anchor:start' transform="translate(249.909023 929.692917) rotate(-45)" textLength="67.149" lengthAdjust="spacingAndGlyphs">Illizi Basin (1)</text>
</g>
<g id="b_text_14">
<text style='font-size:10.6px;font-family:"Liberation Sans",sans-serif;text-anchor:start' transform="translate(293.038672 951.129301) rotate(-45)" textLength="97.471" lengthAdjust="spacingAndGlyphs">Timimoun Basin (6)</text>
</g>
<g id="b_text_15">
<text style='font-size:10.6px;font-family:"Liberation Sans",sans-serif;text-anchor:start' transform="translate(356.116465 932.669395) rotate(-45)" textLength="71.358" lengthAdjust="spacingAndGlyphs">Sirt Basin (14)</text>
</g>
<g id="b_text_16">
<text style='font-size:10.6px;font-family:"Liberation Sans",sans-serif;text-anchor:start' transform="translate(405.194649 942.208707) rotate(-45)" textLength="84.849" lengthAdjust="spacingAndGlyphs">Murzuq Basin (4)</text>
</g>
<g id="b_text_17">
<text style='font-size:10.6px;font-family:"Liberation Sans",sans-serif;text-anchor:start' transform="translate(433.572835 993.148017) rotate(-45)" textLength="156.744" lengthAdjust="spacingAndGlyphs">Offshore Côte d'Ivoire Basin (8)</text>
</g>
<g id="b_text_18">
<text style='font-size:10.6px;font-family:"Liberation Sans",sans-serif;text-anchor:start' transform="translate(503.669216 960.650936) rotate(-45)" textLength="110.928" lengthAdjust="spacingAndGlyphs">Niger Delta Basin (10)</text>
</g>
<g id="b_text_19">
<text style='font-size:10.6px;font-family:"Liberation Sans",sans-serif;text-anchor:start' transform="translate(563.934603 947.815843) rotate(-45)" textLength="92.779" lengthAdjust="spacingAndGlyphs">Kwanza Basin (15)</text>
</g>
<g id="b_text_20">
<text style='font-size:10.6px;font-family:"Liberation Sans",sans-serif;text-anchor:start' transform="translate(603.676215 976.028299) rotate(-45)" textLength="132.530" lengthAdjust="spacingAndGlyphs">Offshore Gabon Basin (16)</text>
</g>
<g id="b_text_21">
<text style='font-size:10.6px;font-family:"Liberation Sans",sans-serif;text-anchor:start' transform="translate(675.536496 940.003418) rotate(-45)" textLength="81.729" lengthAdjust="spacingAndGlyphs">Somali Basin (3)</text>
</g>
<g id="b_text_22">
<text style='font-size:10.6px;font-family:"Liberation Sans",sans-serif;text-anchor:start' transform="translate(708.657269 981.457553) rotate(-45)" textLength="140.206" lengthAdjust="spacingAndGlyphs">Offshore Tanzania  Basin (7)</text>
</g>
<g id="b_text_23">
<text style='font-size:10.6px;font-family:"Liberation Sans",sans-serif;text-anchor:start' transform="translate(778.483513 949.500746) rotate(-45)" textLength="95.162" lengthAdjust="spacingAndGlyphs">Ruvuma Basin (11)</text>
</g>
<g id="b_text_24">
<text style='font-size:10.6px;font-family:"Liberation Sans",sans-serif;text-anchor:start' transform="translate(826.495512 961.172427) rotate(-45)" textLength="111.665" lengthAdjust="spacingAndGlyphs">Mozambique Basin (5)</text>
</g>
<g id="b_text_25">
<text style='font-size:10.6px;font-family:"Liberation Sans",sans-serif;text-anchor:start' transform="translate(868.645707 984.567718) rotate(-45)" textLength="144.762" lengthAdjust="spacingAndGlyphs">Southwest African Basin (17)</text>
</g>
</g>
<g id="b_axes_2">
<g id="b_matplotlib.axis_3">
<g id="b_ytick_8">
<g id="b_line2d_49">
<path d="M 41.6 834.358468 
L 1024 834.358468 
" clip-path="url(#b_p36844633c5)" style="fill: none; stroke: #b8b8b8; stroke-opacity: 0.3; stroke-width: 1.8; stroke-linecap: square"/>
</g>
<g id="b_line2d_50">
<defs>
<path id="b_md63e6d9ccd" d="M 0 0 
L -3.5 0 
" style="stroke: #555555; stroke-width: 0.8"/>
</defs>
<g>
<use href="#b_md63e6d9ccd" x="1024" y="834.358468" style="fill: #555555; stroke: #555555; stroke-width: 0.8"/>
</g>
</g>
<g id="b_text_26">
<text style='font-size:10.6px;font-family:"Liberation Sans",sans-serif;text-anchor:start' x="1027.5" y="838.157687" transform="rotate(-0 1027.5 838.157687)" textLength="28.628" lengthAdjust="spacingAndGlyphs">0.005</text>
</g>
</g>
<g id="b_ytick_9">
<g id="b_line2d_51">
<path d="M 41.6 782.161124 
L 1024 782.161124 
" clip-path="url(#b_p36844633c5)" style="fill: none; stroke: #b8b8b8; stroke-opacity: 0.3; stroke-width: 1.8; stroke-linecap: square"/>
</g>
<g id="b_line2d_52">
<g>
<use href="#b_md63e6d9ccd" x="1024" y="782.161124" style="fill: #555555; stroke: #555555; stroke-width: 0.8"/>
</g>
</g>
<g id="b_text_27">
<text style='font-size:10.6px;font-family:"Liberation Sans",sans-serif;text-anchor:start' x="1027.5" y="785.960343" transform="rotate(-0 1027.5 785.960343)" textLength="28.628" lengthAdjust="spacingAndGlyphs">0.010</text>
</g>
</g>
<g id="b_ytick_10">
<g id="b_line2d_53">
<path d="M 41.6 729.96378 
L 1024 729.96378 
" clip-path="url(#b_p36844633c5)" style="fill: none; stroke: #b8b8b8; stroke-opacity: 0.3; stroke-width: 1.8; stroke-linecap: square"/>
</g>
<g id="b_line2d_54">
<g>
<use href="#b_md63e6d9ccd" x="1024" y="729.96378" style="fill: #555555; stroke: #555555; stroke-width: 0.8"/>
</g>
</g>
<g id="b_text_28">
<text style='font-size:10.6px;font-family:"Liberation Sans",sans-serif;text-anchor:start' x="1027.5" y="733.762999" transform="rotate(-0 1027.5 733.762999)" textLength="28.628" lengthAdjust="spacingAndGlyphs">0.015</text>
</g>
</g>
<g id="b_ytick_11">
<g id="b_line2d_55">
<path d="M 41.6 677.766436 
L 1024 677.766436 
" clip-path="url(#b_p36844633c5)" style="fill: none; stroke: #b8b8b8; stroke-opacity: 0.3; stroke-width: 1.8; stroke-linecap: square"/>
</g>
<g id="b_line2d_56">
<g>
<use href="#b_md63e6d9ccd" x="1024" y="677.766436" style="fill: #555555; stroke: #555555; stroke-width: 0.8"/>
</g>
</g>
<g id="b_text_29">
<text style='font-size:10.6px;font-family:"Liberation Sans",sans-serif;text-anchor:start' x="1027.5" y="681.565655" transform="rotate(-0 1027.5 681.565655)" textLength="28.628" lengthAdjust="spacingAndGlyphs">0.020</text>
</g>
</g>
<g id="b_ytick_12">
<g id="b_line2d_57">
<path d="M 41.6 625.569092 
L 1024 625.569092 
" clip-path="url(#b_p36844633c5)" style="fill: none; stroke: #b8b8b8; stroke-opacity: 0.3; stroke-width: 1.8; stroke-linecap: square"/>
</g>
<g id="b_line2d_58">
<g>
<use href="#b_md63e6d9ccd" x="1024" y="625.569092" style="fill: #555555; stroke: #555555; stroke-width: 0.8"/>
</g>
</g>
<g id="b_text_30">
<text style='font-size:10.6px;font-family:"Liberation Sans",sans-serif;text-anchor:start' x="1027.5" y="629.368311" transform="rotate(-0 1027.5 629.368311)" textLength="28.628" lengthAdjust="spacingAndGlyphs">0.025</text>
</g>
</g>
<g id="b_ytick_13">
<g id="b_line2d_59">
<path d="M 41.6 573.371748 
L 1024 573.371748 
" clip-path="url(#b_p36844633c5)" style="fill: none; stroke: #b8b8b8; stroke-opacity: 0.3; stroke-width: 1.8; stroke-linecap: square"/>
</g>
<g id="b_line2d_60">
<g>
<use href="#b_md63e6d9ccd" x="1024" y="573.371748" style="fill: #555555; stroke: #555555; stroke-width: 0.8"/>
</g>
</g>
<g id="b_text_31">
<text style='font-size:10.6px;font-family:"Liberation Sans",sans-serif;text-anchor:start' x="1027.5" y="577.170967" transform="rotate(-0 1027.5 577.170967)" textLength="28.628" lengthAdjust="spacingAndGlyphs">0.030</text>
</g>
</g>
<g id="b_text_32">
<text style='font-size:10.6px;font-family:"Liberation Sans",sans-serif;text-anchor:middle' x="1067.726563" y="709.92" transform="rotate(-90 1067.726563 709.92)" textLength="28.311" lengthAdjust="spacingAndGlyphs">CIPPE</text>
</g>
</g>
<g id="b_line2d_61">
<path d="M 101.586494 737.167014 
L 155.434335 690.606983 
L 209.282175 587.360636 
L 263.130015 737.688987 
L 316.977856 561.992727 
L 370.825696 650.832607 
L 424.673537 737.375803 
L 478.521377 629.74488 
L 532.369217 689.771825 
L 586.217058 706.057397 
L 640.064898 763.161291 
L 693.912738 775.897443 
L 747.760579 612.83294 
L 801.608419 662.94239 
L 855.45626 709.084842 
L 909.3041 633.607483 
L 963.15194 857.847273 
" clip-path="url(#b_p36844633c5)" style="fill: none; stroke: #c000c0; stroke-width: 1.2; stroke-linecap: square"/>
<defs>
<path id="b_mbf93708de9" d="M 0 2 
C 0.530406 2 1.03916 1.789267 1.414214 1.414214 
C 1.789267 1.03916 2 0.530406 2 0 
C 2 -0.530406 1.789267 -1.03916 1.414214 -1.414214 
C 1.03916 -1.789267 0.530406 -2 0 -2 
C -0.530406 -2 -1.03916 -1.789267 -1.414214 -1.414214 
C -1.789267 -1.03916 -2 -0.530406 -2 0 
C -2 0.530406 -1.789267 1.03916 -1.414214 1.414214 
C -1.03916 1.789267 -0.530406 2 0 2 
z
" style="stroke: #c000c0"/>
</defs>
<g clip-path="url(#b_p36844633c5)">
<use href="#b_mbf93708de9" x="101.586494" y="737.167014" style="fill: #c000c0; stroke: #c000c0"/>
<use href="#b_mbf93708de9" x="155.434335" y="690.606983" style="fill: #c000c0; stroke: #c000c0"/>
<use href="#b_mbf93708de9" x="209.282175" y="587.360636" style="fill: #c000c0; stroke: #c000c0"/>
<use href="#b_mbf93708de9" x="263.130015" y="737.688987" style="fill: #c000c0; stroke: #c000c0"/>
<use href="#b_mbf93708de9" x="316.977856" y="561.992727" style="fill: #c000c0; stroke: #c000c0"/>
<use href="#b_mbf93708de9" x="370.825696" y="650.832607" style="fill: #c000c0; stroke: #c000c0"/>
<use href="#b_mbf93708de9" x="424.673537" y="737.375803" style="fill: #c000c0; stroke: #c000c0"/>
<use href="#b_mbf93708de9" x="478.521377" y="629.74488" style="fill: #c000c0; stroke: #c000c0"/>
<use href="#b_mbf93708de9" x="532.369217" y="689.771825" style="fill: #c000c0; stroke: #c000c0"/>
<use href="#b_mbf93708de9" x="586.217058" y="706.057397" style="fill: #c000c0; stroke: #c000c0"/>
<use href="#b_mbf93708de9" x="640.064898" y="763.161291" style="fill: #c000c0; stroke: #c000c0"/>
<use href="#b_mbf93708de9" x="693.912738" y="775.897443" style="fill: #c000c0; stroke: #c000c0"/>
<use href="#b_mbf93708de9" x="747.760579" y="612.83294" style="fill: #c000c0; stroke: #c000c0"/>
<use href="#b_mbf93708de9" x="801.608419" y="662.94239" style="fill: #c000c0; stroke: #c000c0"/>
<use href="#b_mbf93708de9" x="855.45626" y="709.084842" style="fill: #c000c0; stroke: #c000c0"/>
<use href="#b_mbf93708de9" x="909.3041" y="633.607483" style="fill: #c000c0; stroke: #c000c0"/>
<use href="#b_mbf93708de9" x="963.15194" y="857.847273" style="fill: #c000c0; stroke: #c000c0"/>
</g>
</g>
<g id="b_legend_1">
<g id="b_patch_56">
<path d="M 47.431 591.377634 
L 195.447291 591.377634 
Q 197.113291 591.377634 197.113291 589.711634 
L 197.113291 553.031 
Q 197.113291 551.365 195.447291 551.365 
L 47.431 551.365 
Q 45.765 551.365 45.765 553.031 
L 45.765 589.711634 
Q 45.765 591.377634 47.431 591.377634 
z
" style="fill: #ffffff; opacity: 0.8; stroke: #cccccc; stroke-width: 0.8; stroke-linejoin: miter"/>
</g>
<g id="b_patch_57">
<path d="M 49.097 561.026498 
L 65.757 561.026498 
L 65.757 555.195498 
L 49.097 555.195498 
z
" style="fill: #0000ff"/>
</g>
<g id="b_text_33">
<text style='font-size:8.83px;font-family:"Liberation Sans",sans-serif;text-anchor:start' x="72.421" y="561.026498" transform="rotate(-0 72.421 561.026498)" textLength="76.569" lengthAdjust="spacingAndGlyphs">Exploration Status</text>
</g>
<g id="b_patch_58">
<path d="M 49.097 573.669877 
L 65.757 573.669877 
L 65.757 567.838877 
L 49.097 567.838877 
z
" style="fill: #008000"/>
</g>
<g id="b_text_34">
<text style='font-size:8.83px;font-family:"Liberation Sans",sans-serif;text-anchor:start' x="72.421" y="573.669877" transform="rotate(-0 72.421 573.669877)" textLength="121.363" lengthAdjust="spacingAndGlyphs">Development and Production</text>
</g>
<g id="b_patch_59">
<path d="M 49.097 586.313255 
L 65.757 586.313255 
L 65.757 580.482255 
L 49.097 580.482255 
z
" style="fill: #ff0000"/>
</g>
<g id="b_text_35">
<text style='font-size:8.83px;font-family:"Liberation Sans",sans-serif;text-anchor:start' x="72.421" y="586.313255" transform="rotate(-0 72.421 586.313255)" textLength="77.427" lengthAdjust="spacingAndGlyphs">Local Environment</text>
</g>
</g>
<g id="b_legend_2">
<g id="b_patch_60">
<path d="M 967.929989 566.090878 
L 1018.169 566.090878 
Q 1019.835 566.090878 1019.835 564.424878 
L 1019.835 553.031 
Q 1019.835 551.365 1018.169 551.365 
L 967.929989 551.365 
Q 966.263989 551.365 966.263989 553.031 
L 966.263989 564.424878 
Q 966.263989 566.090878 967.929989 566.090878 
z
" style="fill: #ffffff; opacity: 0.8; stroke: #cccccc; stroke-width: 0.8; stroke-linejoin: miter"/>
</g>
<g id="b_line2d_62">
<path d="M 969.595989 558.110998 
L 977.925989 558.110998 
L 986.255989 558.110998 
" style="fill: none; stroke: #c000c0; stroke-width: 1.2; stroke-linecap: square"/>
<g>
<use href="#b_mbf93708de9" x="977.925989" y="558.110998" style="fill: #c000c0; stroke: #c000c0"/>
</g>
</g>
<g id="b_text_36">
<text style='font-size:8.83px;font-family:"Liberation Sans",sans-serif;text-anchor:start' x="992.919989" y="561.026498" transform="rotate(-0 992.919989 561.026498)" textLength="23.583" lengthAdjust="spacingAndGlyphs">CIPPE</text>
</g>
</g>
</g>
<g id="b_text_37">
<text style='font-size:10.6px;font-family:"Liberation Sans",sans-serif;text-anchor:middle' x="487.68" y="1005.44" transform="rotate(-0 487.68 1005.44)" textLength="27.315" lengthAdjust="spacingAndGlyphs">Basin</text>
</g>
</g>
<defs>
<clipPath id="b_p36844633c5">
<rect x="41.6" y="547.2" width="982.4" height="325.44"/>
</clipPath>
</defs>
</svg>

<div class="lab" style="left:88.5px;top:45px">a<span style="margin-left:0.8px">)</span></div>
<div class="lab" style="left:47px;top:328px">b)</div>
<div class="t" style="top:4.40px;color:#000">Min and Max Coordinates:</div><div class="t" style="top:18.50px;color:#f00">Min (0.00124, 0.00445, 0.00068)</div><div class="t" style="top:32.50px;color:#f00">Max (0.06285, 0.01740, 0.00717)</div><div class="t" style="top:53.90px;color:#000">Basin Coordinates:</div><div class="t" style="top:68.00px;color:#000">1-Red Sea Basin: (0.02465, 0.01083, 0.00385)</div><div class="t" style="top:82.10px;color:#000">2-Suez Basin: (0.03675, 0.00980, 0.00336)</div><div class="t" style="top:96.20px;color:#000">3-Nile Delta Basin: (0.06285, 0.00889, 0.00207)</div><div class="t" style="top:110.30px;color:#000">4-Pelagian Basin: (0.02323, 0.00924, 0.00717)</div><div class="t" style="top:124.40px;color:#000">5-Illizi Basin: (0.06165, 0.01522, 0.00555)</div><div class="t" style="top:138.50px;color:#000">6-Timimoun Basin: (0.03934, 0.01740, 0.00523)</div><div class="t" style="top:152.60px;color:#000">7-Sirt Basin: (0.02911, 0.00756, 0.00088)</div><div class="t" style="top:166.70px;color:#000">8-Murzuq Basin: (0.05357, 0.00836, 0.00138)</div><div class="t" style="top:180.80px;color:#000">9-Offshore Côte d'Ivoire Basin: (0.03032, 0.01559, 0.00673)</div><div class="t" style="top:194.90px;color:#000">10-Niger Delta Basin: (0.03434, 0.00747, 0.00374)</div><div class="t" style="top:209.00px;color:#000">11-Kwanza Basin: (0.01471, 0.01519, 0.00477)</div><div class="t" style="top:223.10px;color:#000">12-Offshore Gabon Basin: (0.01083, 0.01725, 0.00407)</div><div class="t" style="top:237.20px;color:#000">13-Somali Basin: (0.05585, 0.00949, 0.00269)</div><div class="t" style="top:251.30px;color:#000">14-Offshore Tanzania&nbsp; Basin: (0.04871, 0.00506, 0.00068)</div><div class="t" style="top:265.40px;color:#000">15-Ruvuma Basin: (0.03726, 0.00445, 0.00200)</div><div class="t" style="top:279.50px;color:#000">16-Mozambique Basin: (0.04538, 0.01306, 0.00664)</div><div class="t" style="top:293.60px;color:#000">17-Southwest African Basin: (0.00124, 0.00695, 0.00079)</div>
</body></html>
